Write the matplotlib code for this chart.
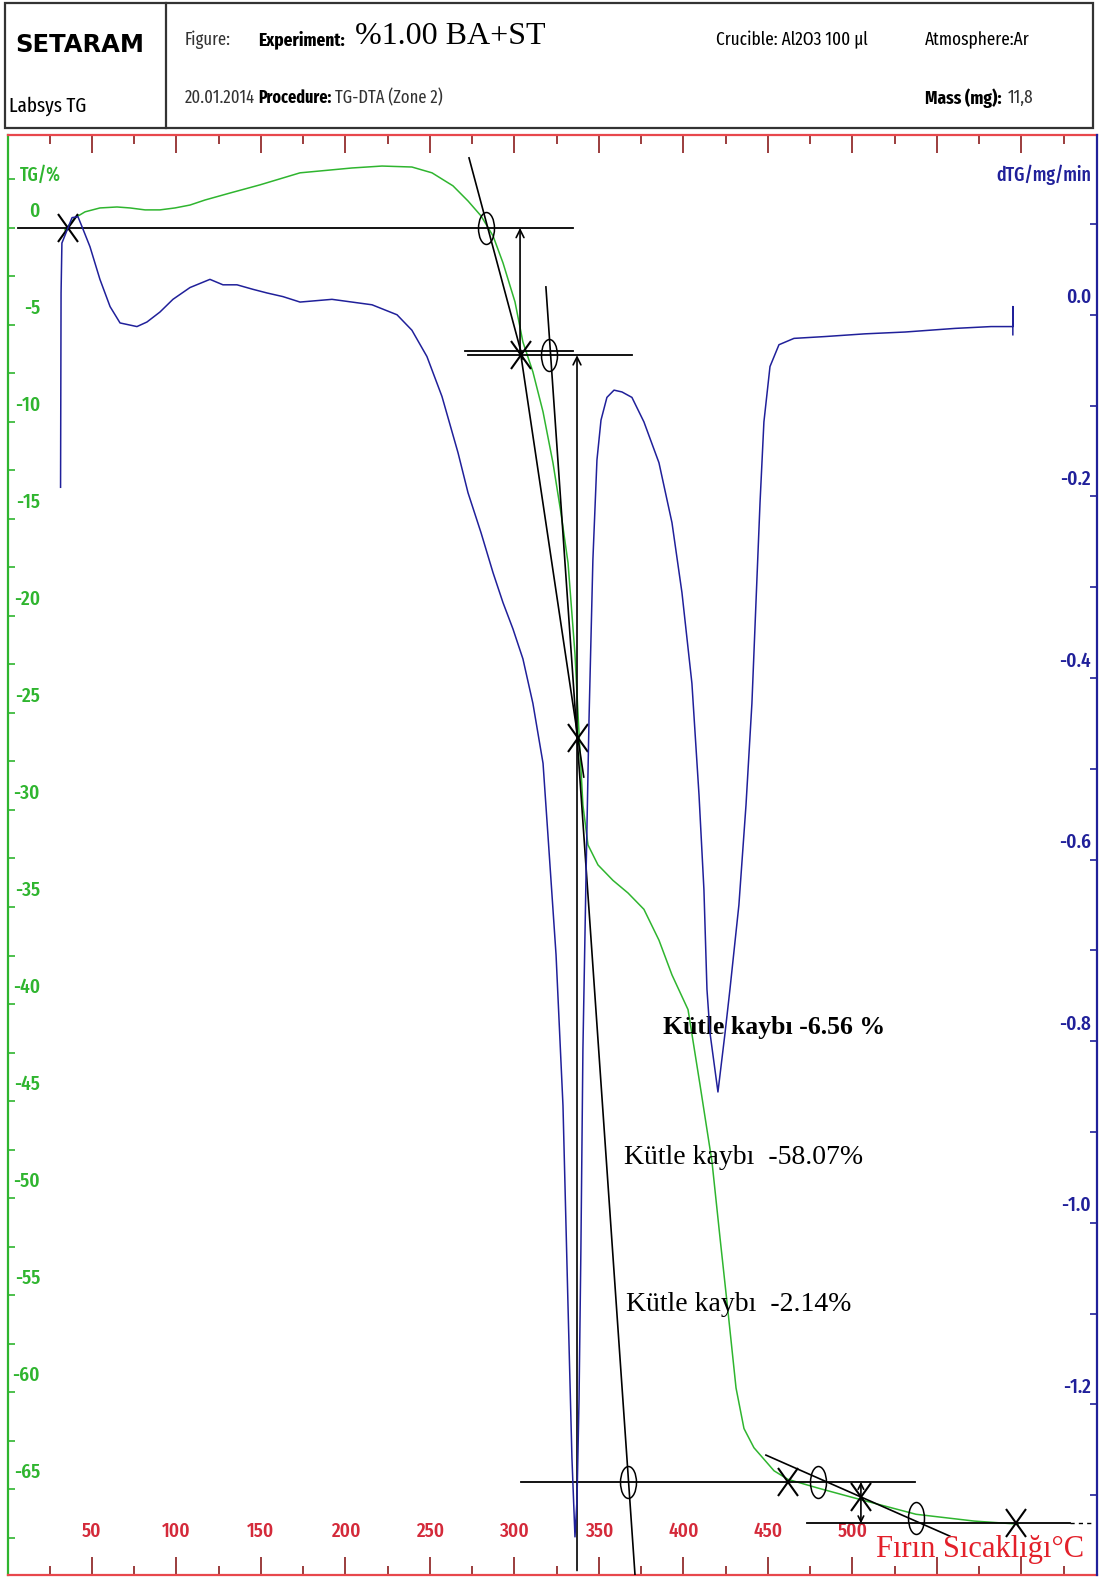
import numpy as np
import matplotlib.pyplot as plt
from matplotlib.markers import MarkerStyle
from matplotlib.patches import Rectangle
from matplotlib.transforms import Affine2D, blended_transform_factory, offset_copy

NARROW = ['Fira Sans Extra Condensed', 'Roboto Condensed', 'DejaVu Sans']
SERIF = ['Liberation Serif', 'DejaVu Serif']

GREEN = '#2fb52f'
BLUE = '#20209a'
RED = '#e8474c'
TICKRED = '#8a1c1c'
LABELRED = '#d42a3a'

# TG curve: furnace temperature (degC) and mass change (%)
tg_temp = [34.0, 39.9, 45.9, 54.7, 64.8, 72.5, 81.4, 90.2, 99.1, 108.0, 116.9, 131.7,
           149.4, 173.1, 203.8, 221.6, 239.3, 251.2, 263.6, 272.5, 280.2, 287.3, 293.2,
           300.3, 305.0, 310.9, 316.9, 322.8, 327.5, 331.7, 335.8, 338.2, 340.5, 343.5,
           349.4, 358.3, 367.2, 376.6, 385.5, 393.2, 402.7, 409.8, 416.9, 421.6, 426.3,
           431.1, 435.8, 441.7, 453.6, 461.8, 479.6, 505.0, 537.6, 572.0, 596.7, 598.0]
tg_mass = [-0.10, 0.52, 0.83, 1.03, 1.08, 1.03, 0.93, 0.93, 1.03, 1.18, 1.44, 1.80,
           2.22, 2.84, 3.09, 3.19, 3.14, 2.84, 2.17, 1.39, 0.62, -0.41, -1.80,
           -3.81, -5.88, -7.42, -9.48, -12.12, -14.69, -17.27, -21.96, -26.06, -29.75, -31.80,
           -32.83, -33.63, -34.28, -35.12, -36.71, -38.50, -40.29, -44.17, -48.15, -52.03, -55.81,
           -59.79, -61.88, -62.87, -64.06, -64.50, -64.95, -65.55, -66.30, -66.65, -66.80, -66.82]

# DTG curve: temperature (degC) and rate (mg/min)
dtg_temp = [31.4, 31.7, 32.2, 38.2, 41.7, 44.1, 48.8, 54.7, 60.7, 66.6, 76.6, 82.5,
            90.2, 97.9, 108.0, 119.8, 127.5, 135.8, 145.3, 153.6, 163.0, 173.1, 192.0,
            215.7, 230.5, 239.3, 248.2, 257.1, 266.6, 272.5, 280.2, 287.3, 293.2, 299.1,
            305.0, 310.9, 316.9, 319.8, 324.6, 328.7, 331.7, 334.0, 335.8, 337.0, 338.2,
            339.3, 340.5, 342.3, 344.1, 346.4, 348.8, 351.2, 354.7, 358.9, 363.6, 369.5,
            376.6, 385.5, 393.2, 399.1, 405.0, 409.2, 412.1, 413.9, 415.7, 420.4, 424.6,
            427.5, 432.8, 437.0, 440.5, 442.9, 445.3, 447.6, 451.2, 456.5, 465.4, 483.7,
            507.4, 531.1, 560.7, 582.0, 594.9, 594.9, 594.9]
dtg_rate = [-0.190, 0.024, 0.079, 0.107, 0.108, 0.097, 0.075, 0.039, 0.009, -0.009, -0.013, -0.008,
            0.003, 0.017, 0.030, 0.039, 0.033, 0.033, 0.028, 0.024, 0.020, 0.014, 0.017,
            0.011, 0.000, -0.017, -0.046, -0.090, -0.152, -0.196, -0.240, -0.284, -0.317, -0.346,
            -0.379, -0.428, -0.494, -0.573, -0.705, -0.871, -1.093, -1.259, -1.346, -1.305, -1.195,
            -1.030, -0.809, -0.622, -0.446, -0.270, -0.160, -0.116, -0.091, -0.083, -0.085, -0.091,
            -0.118, -0.163, -0.229, -0.306, -0.406, -0.529, -0.633, -0.743, -0.791, -0.856, -0.791,
            -0.743, -0.650, -0.540, -0.428, -0.317, -0.207, -0.118, -0.057, -0.033, -0.026, -0.024,
            -0.021, -0.019, -0.015, -0.013, -0.013, 0.009, -0.022]

# mass loss of each step (%) and the baselines they define
step_losses = [-6.56, -58.07, -2.14]
levels = np.concatenate([[0.0], np.cumsum(step_losses)])
base_start = [6.2, 272.5, 303.8, 473.1]
base_end = [334.6, 369.5, 537.0, 628.7]

# tangent lines: (T0, TG0, T1, TG1)
tangents = [(273.1, 3.61, 305.0, -6.75),
            (303.8, -6.56, 341.0, -28.3),
            (318.6, -3.04, 371.3, -69.4),
            (448.8, -63.25, 557.7, -67.43)]

# onset / end points (x) and inflection points (o)
cross_temp = [36.0, 303.8, 337.6, 461.8, 505.0, 596.7]
cross_mass = [levels[0], levels[1], -26.3, levels[2], -65.4, levels[3]]
ring_temp = [283.1, 320.4, 367.2, 479.6, 537.6]
ring_mass = [levels[0], levels[1], levels[2], levels[2], -66.5]

tg_ticks = np.arange(0, -66, -5)
dtg_ticks = [0.0, -0.2, -0.4, -0.6, -0.8, -1.0, -1.2]
temp_ticks = np.arange(50, 501, 50)

W, H = 1105, 1577
fig = plt.figure(figsize=(W / 100, H / 100), dpi=100)

# instrument header
hdr = fig.add_axes([0, 0, 1, 1])
hdr.set_xlim(0, W)
hdr.set_ylim(H, 0)
hdr.axis('off')
hdr.add_patch(Rectangle((5, 3), 1088, 125, fill=False, ec='#333333', lw=1.6))
hdr.plot([166, 166], [3, 128], color='#333333', lw=1.6)
hdr.text(15, 45, 'SETARAM', fontsize=17.5, fontweight='bold', family='DejaVu Sans', va='center')
hdr.text(9, 106, 'Labsys TG', fontsize=15, family=NARROW, va='center')
hdr.text(185, 40, 'Figure:', fontsize=13, family=NARROW, va='center', color='#333333')
hdr.text(258, 40, 'Experiment:', fontsize=13.5, fontweight='bold', family=NARROW, va='center')
hdr.text(355, 36, '%1.00 BA+ST', fontsize=23, family=SERIF, va='center')
hdr.text(185, 98, '20.01.2014', fontsize=13, family=NARROW, va='center', color='#333333')
hdr.text(258, 98, 'Procedure:', fontsize=12.5, fontweight='bold', family=NARROW, va='center')
hdr.text(335, 98, 'TG-DTA (Zone 2)', fontsize=13, family=NARROW, va='center', color='#333333')
hdr.text(716, 40, 'Crucible: Al2O3 100 µl', fontsize=13.5, family=NARROW, va='center')
hdr.text(925, 40, 'Atmosphere:Ar', fontsize=13.5, family=NARROW, va='center')
hdr.text(925, 98, 'Mass (mg):', fontsize=13.5, fontweight='bold', family=NARROW, va='center')
hdr.text(1008, 98, '11,8', fontsize=13.5, family=NARROW, va='center', color='#333333')

# TG / DTG plot
ax = fig.add_axes([8 / W, 2 / H, 1089 / W, 1440 / H])
ax2 = ax.twinx()
ax.set_xlim(0.3, 644.7)
ax.set_ylim(-69.43, 4.79)
ax2.set_ylim(-1.388, 0.198)

ax.plot(tg_temp, tg_mass, color=GREEN, lw=1.1, zorder=3)
ax2.plot(dtg_temp, dtg_rate, color=BLUE, lw=1.1, zorder=3)

for lv, x0, x1 in zip(levels, base_start, base_end):
    ax.plot([x0, x1], [lv, lv], color='black', lw=1.3, zorder=4)
ax.plot([270.7, 334.6], [levels[1] + 0.2, levels[1] + 0.2], color='black', lw=1.3, zorder=4)
ax.plot([base_end[3], 641.0], [levels[3], levels[3]], color='black', lw=1.0, ls=(0, (3, 3)), zorder=4)

for t0, m0, t1, m1 in tangents:
    ax.plot([t0, t1], [m0, m1], color='black', lw=1.2, zorder=4)

arrow = dict(arrowstyle='->', color='black', lw=1.2, shrinkA=0, shrinkB=0,
             mutation_scale=14)
ax.annotate('', xy=(303.3, levels[0]), xytext=(303.3, levels[1]), arrowprops=arrow, zorder=4)
ax.annotate('', xy=(337.0, levels[1]), xytext=(337.0, -69.2), arrowprops=arrow, zorder=4)
ax.annotate('', xy=(505.0, levels[3]), xytext=(505.0, levels[2]),
            arrowprops=dict(arrow, arrowstyle='<->', mutation_scale=10), zorder=4)

x_mark = MarkerStyle('x', transform=Affine2D().scale(0.75, 1.0))
o_mark = MarkerStyle('o', fillstyle='none', transform=Affine2D().scale(0.5, 1.0))
ax.plot(cross_temp, cross_mass, ls='none', marker=x_mark, ms=20, mew=1.5, color='black', zorder=5)
ax.plot(ring_temp, ring_mass, ls='none', marker=o_mark, ms=23, mew=1.1, mec='black', zorder=5)

ax.text(387.9, -41.2, f'Kütle kaybı {step_losses[0]:.2f} %', fontsize=18.5, fontweight='bold',
        family=SERIF, va='center', zorder=6)
ax.text(364.8, -47.9, f'Kütle kaybı  {step_losses[1]:.2f}%', fontsize=20,
        family=SERIF, va='center', zorder=6)
ax.text(366.0, -55.5, f'Kütle kaybı  {step_losses[2]:.2f}%', fontsize=20,
        family=SERIF, va='center', zorder=6)
ax.text(514.0, -68.1, 'Fırın Sıcaklığı°C', fontsize=22, color='#e3202a',
        family=SERIF, va='center', zorder=6)

# spines
for s in ['left', 'top', 'bottom', 'right']:
    ax2.spines[s].set_visible(False)
ax.spines['right'].set_visible(False)
ax2.spines['right'].set_visible(True)
ax2.spines['right'].set_color(BLUE)
ax2.spines['right'].set_linewidth(1.6)
ax.spines['left'].set_color(GREEN)
ax.spines['left'].set_linewidth(1.6)
ax.spines['top'].set_color(RED)
ax.spines['bottom'].set_color(RED)
ax.spines['top'].set_linewidth(1.6)
ax.spines['bottom'].set_linewidth(1.6)

# ticks
ax.set_xticks(np.arange(50, 601, 50))
ax.set_xticks(np.arange(25, 640, 50), minor=True)
ax.tick_params(axis='x', which='both', direction='in', top=True, bottom=True,
               labelbottom=False, color=TICKRED, width=1.2)
ax.tick_params(axis='x', which='major', length=13)
ax.tick_params(axis='x', which='minor', length=6.5)
ax.set_yticks(np.arange(2.5, -69, -2.5))
ax.tick_params(axis='y', which='major', direction='in', left=True, right=False,
               labelleft=False, length=5, color=GREEN, width=1.2)
ax2.set_yticks(np.arange(0.1, -1.39, -0.1))
ax2.tick_params(axis='y', which='major', direction='in', right=True, labelright=False,
                length=5, color=BLUE, width=1.2)

# tick labels sit just above their ticks, inside the frame
left_tr = offset_copy(blended_transform_factory(ax.transAxes, ax.transData), fig=fig,
                      x=0, y=17, units='dots')
for v in tg_ticks:
    ax.text(0.0294, v, f'{v:g}', transform=left_tr, ha='right', va='center',
            color=GREEN, fontsize=15, fontweight='medium', family=NARROW)
right_tr = offset_copy(blended_transform_factory(ax2.transAxes, ax2.transData), fig=fig,
                       x=0, y=17, units='dots')
for v in dtg_ticks:
    ax2.text(0.9945, v, f'{v:.1f}', transform=right_tr, ha='right', va='center',
             color=BLUE, fontsize=15, fontweight='medium', family=NARROW)
bottom_tr = blended_transform_factory(ax.transData, ax.transAxes)
for v in temp_ticks:
    ax.text(v, 0.030, f'{v:d}', transform=bottom_tr, ha='center', va='center',
            color=LABELRED, fontsize=15, fontweight='medium', family=NARROW)

ax.text(0.011, 0.972, 'TG/%', transform=ax.transAxes, ha='left', va='center',
        color=GREEN, fontsize=14, fontweight='medium', family=NARROW)
ax2.text(0.9945, 0.972, 'dTG/mg/min', transform=ax2.transAxes, ha='right', va='center',
         color=BLUE, fontsize=14, fontweight='medium', family=NARROW)

fig.savefig('out.png', dpi=100)
